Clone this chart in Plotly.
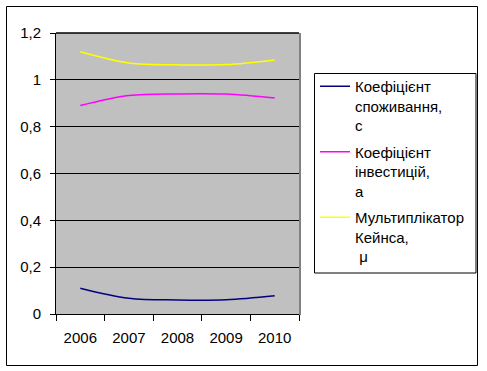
import plotly.graph_objects as go

years = ["2006", "2007", "2008", "2009", "2010"]
consumption = [0.11, 0.067, 0.06, 0.061, 0.078]
investment = [0.89, 0.933, 0.94, 0.939, 0.922]
multiplier = [1.12, 1.072, 1.064, 1.065, 1.085]
names = ["Коефіцієнт<br>споживання,<br>c", "Коефіцієнт<br>інвестицій,<br>a", "Мультиплікатор<br>Кейнса,<br> μ"]
colors = ["#000080", "#FF00FF", "#FFFF00"]
y_ticks = [0, 0.2, 0.4, 0.6, 0.8, 1.0, 1.2]
y_labels = ["0", "0,2", "0,4", "0,6", "0,8", "1", "1,2"]

W, H = 487, 371
L, R, T, B = 56, 299, 33, 314
pw, ph = R - L, B - T

def px(x):
    return (x - L) / pw

def py(y):
    return (B - y) / ph

fig = go.Figure()
for i, (vals, nm, col) in enumerate(zip([consumption, investment, multiplier], names, colors)):
    fig.add_trace(go.Scatter(x=years, y=vals, name=nm, mode="lines", legendgroup=f"g{i}",
                             line=dict(color=col, width=1.5, shape="spline")))

fig.update_layout(
    width=W, height=H,
    margin=dict(l=L, r=W - R, t=T, b=H - B, pad=0, autoexpand=False),
    paper_bgcolor="white", plot_bgcolor="#C0C0C0",
    font=dict(family="Liberation Sans, Arial", size=15, color="black"),
    showlegend=True,
    legend=dict(x=px(315), y=py(70), xanchor="left", yanchor="top",
                bgcolor="rgba(0,0,0,0)", borderwidth=0, valign="top",
                font=dict(size=15), tracegroupgap=4),
    xaxis=dict(type="category", range=[-0.5, len(years) - 0.5], tickson="boundaries",
               ticks="outside", ticklen=6,
               tickcolor="black", showline=True, linecolor="black", linewidth=1,
               showgrid=False, zeroline=False, fixedrange=True, ticklabelstandoff=10),
    yaxis=dict(range=[0, 1.2], tickvals=y_ticks, ticktext=y_labels, ticks="outside",
               ticklen=5, tickcolor="black", showline=True, linecolor="black",
               showgrid=True, gridcolor="black", gridwidth=1, zeroline=False,
               fixedrange=True, ticklabelstandoff=6),
    shapes=[
        dict(type="rect", xref="paper", yref="paper", x0=px(6.5), x1=px(477.5),
             y0=py(365.5), y1=py(6.5), line=dict(color="black", width=1)),
        dict(type="rect", xref="paper", yref="paper", x0=px(314.5), x1=px(476),
             y0=py(273), y1=py(73.5), line=dict(color="black", width=1)),
        dict(type="line", xref="paper", yref="paper", x0=px(300), x1=px(300),
             y0=py(315), y1=py(33), line=dict(color="#808080", width=2)),
        dict(type="line", xref="paper", yref="paper", x0=0, x1=1,
             y0=1, y1=1, line=dict(color="black", width=1.5)),
    ],
)

fig.write_html("out.html", config={"displayModeBar": False},
               post_script="document.body.style.margin='0';")
